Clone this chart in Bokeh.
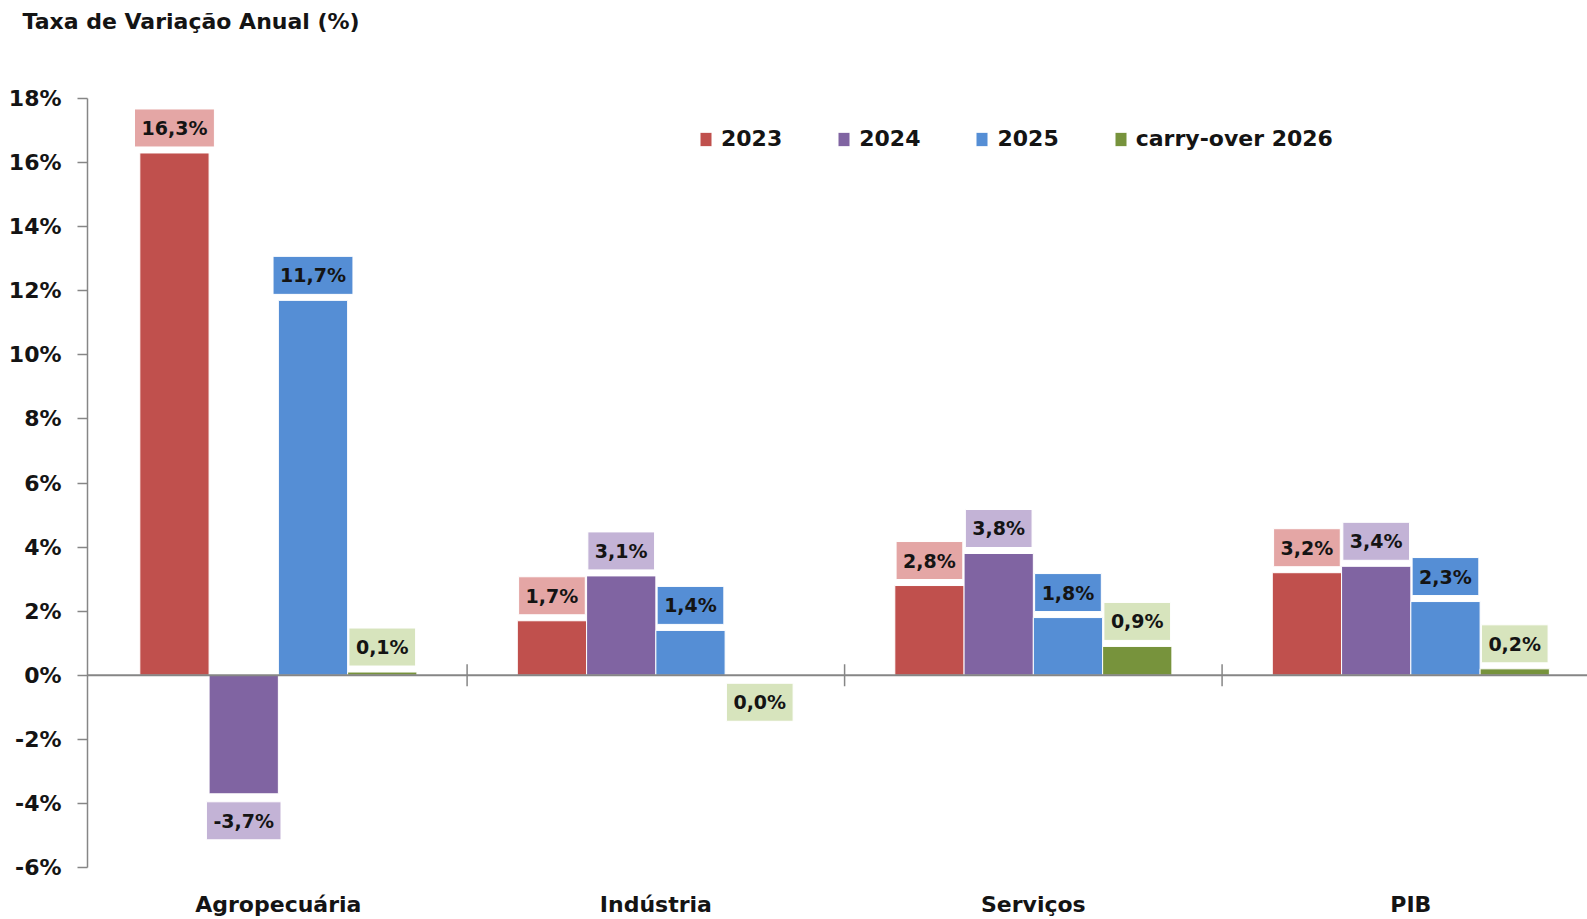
from bokeh.plotting import figure
from bokeh.models import (ColumnDataSource, Range1d, FixedTicker, Span, Legend,
                          LegendItem, Title)
from bokeh.core.properties import value
from bokeh.embed import file_html
from bokeh.resources import INLINE

# ---------------- data ----------------
categories = ["Agropecuária", "Indústria", "Serviços", "PIB"]
series_names = ["2023", "2024", "2025", "carry-over 2026"]
v2023 = [16.3, 1.7, 2.8, 3.2]
v2024 = [-3.7, 3.1, 3.8, 3.4]
v2025 = [11.7, 1.4, 1.8, 2.3]
v2026 = [0.1, 0.0, 0.9, 0.2]
y_ticks = [-6, -4, -2, 0, 2, 4, 6, 8, 10, 12, 14, 16, 18]
y_tick_labels = ["-6%", "-4%", "-2%", "0%", "2%", "4%", "6%", "8%",
                 "10%", "12%", "14%", "16%", "18%"]
title_text = "Taxa de Variação Anual (%)"

# ---------------- style ----------------
bar_colors = ["#c0504d", "#8064a2", "#558ed5", "#77933c"]
label_colors = ["#e4a6a5", "#c3b3d6", "#558ed5", "#d7e4bd"]
axis_gray = "#868686"
FONT = "DejaVu Sans"
TXT = "#141414"
bar_w = 0.1835

series = [v2023, v2024, v2025, v2026]
cat_centers = [i + 0.5 for i in range(len(categories))]

p = figure(width=1587, height=919, output_backend="svg", toolbar_location=None,
           title=None,
           x_range=Range1d(-0.0056, 3.968), y_range=Range1d(-6, 18),
           min_border_left=87, min_border_right=0,
           min_border_top=98, min_border_bottom=52)
p.outline_line_color = None
p.xgrid.visible = False
p.ygrid.visible = False
p.background_fill_color = "white"
p.border_fill_color = "white"

# spacer between frame and title, then the title itself
p.add_layout(Title(text=" ", text_font_size="1px", standoff=54), "above")
p.add_layout(Title(text=title_text, align="left", offset=-65, standoff=12,
                   vertical_align="top", text_font=FONT, text_font_style="bold",
                   text_font_size="22px", text_color=TXT), "above")

# y axis
ya = p.yaxis[0]
ya.ticker = FixedTicker(ticks=y_ticks, minor_ticks=[])
ya.major_label_overrides = {t: l for t, l in zip(y_ticks, y_tick_labels)}
ya.major_label_text_font = FONT
ya.major_label_text_font_style = "bold"
ya.major_label_text_font_size = "22px"
ya.major_label_text_color = TXT
ya.major_label_standoff = 16
ya.axis_line_color = axis_gray
ya.axis_line_width = 1.5
ya.major_tick_line_color = axis_gray
ya.major_tick_line_width = 1.5
ya.major_tick_out = 10
ya.major_tick_in = 0
ya.minor_tick_line_color = None

# x axis: category names only
xa = p.xaxis[0]
xa.ticker = FixedTicker(ticks=cat_centers, minor_ticks=[])
xa.major_label_overrides = {c: n for c, n in zip(cat_centers, categories)}
xa.major_label_text_font = FONT
xa.major_label_text_font_style = "bold"
xa.major_label_text_font_size = "22px"
xa.major_label_text_color = TXT
xa.major_label_standoff = 24
xa.axis_line_color = None
xa.major_tick_line_color = None
xa.minor_tick_line_color = None
xa.major_tick_out = 0
xa.major_tick_in = 0

# zero line
p.add_layout(Span(location=0, dimension="width", line_color=axis_gray, line_width=2))

items = []
for j, (name, vals) in enumerate(zip(series_names, series)):
    xs = [i + 0.5 + (j - 1.5) * bar_w for i in range(len(categories))]
    labels = [("%.1f" % v).replace(".", ",") + "%" for v in vals]
    yoff = [-25 if v > 0 else 27 for v in vals]
    src = ColumnDataSource(dict(x=xs, top=vals, label=labels, yoff=yoff))
    r = p.vbar(x="x", top="top", bottom=0, width=bar_w, source=src,
               fill_color=bar_colors[j], line_color="white", line_width=1)
    p.text(x="x", y="top", text="label", source=src, y_offset="yoff",
           text_font=value(FONT), text_font_style="bold", text_font_size="19px",
           text_align="center", text_baseline="middle", text_color=TXT,
           background_fill_color=label_colors[j], border_line_color="white",
           border_line_width=1,
           padding=dict(left=7, right=7, top=8, bottom=8))
    items.append(LegendItem(label=name, renderers=[r]))

# separator ticks on the zero line
sep_x = [i + 1 for i in range(len(categories) - 1)]
p.scatter(x=sep_x, y=[0] * len(sep_x), marker="dash", size=22, angle=1.5708,
          line_color=axis_gray, line_width=1.5)

legend = Legend(items=items, orientation="horizontal", location=(611, 716),
                padding=0, margin=0, spacing=54, glyph_width=15, glyph_height=18,
                label_standoff=8, label_text_font=FONT, label_text_font_style="bold",
                label_text_font_size="22px", label_text_color=TXT,
                border_line_color=None, background_fill_alpha=0)
p.add_layout(legend)

open("out.html", "w").write(file_html(p, INLINE))
